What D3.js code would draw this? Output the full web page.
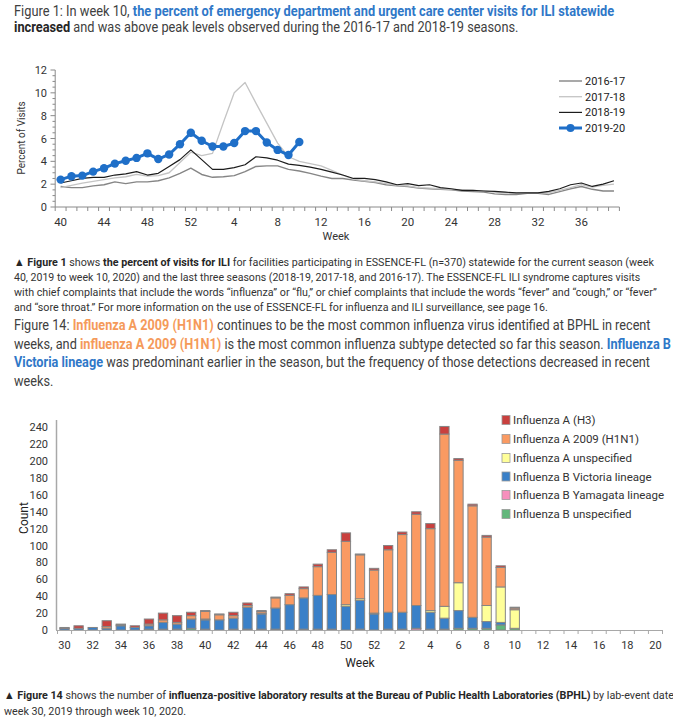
<!DOCTYPE html>
<html><head><meta charset="utf-8">
<script src="https://cdn.jsdelivr.net/npm/d3@7"></script>
<style>body{margin:0;background:#fff}svg{display:block}</style>
</head><body>
<svg id="c" width="673" height="725"></svg>
<script>
// ---------- Figure 1 data (percent of visits for ILI) ----------
const iliWeeks = [40,41,42,43,44,45,46,47,48,49,50,51,52,1,2,3,4,5,6,7,8,9,10,11,12,13,14,15,16,17,18,19,20,21,22,23,24,25,26,27,28,29,30,31,32,33,34,35,36,37,38,39];
const iliTickLabels = [40,44,48,52,4,8,12,16,20,24,28,32,36];
const iliYTicks = [0,2,4,6,8,10,12];
const s1617 = [1.8,1.7,1.7,1.85,1.95,2.2,2.05,2.2,2.2,2.3,2.55,2.95,3.4,
  2.85,2.6,2.65,2.75,3.1,3.55,3.6,3.6,3.3,3.15,2.95,2.7,2.5,2.5,2.35,2.25,2.15,1.95,1.85,1.8,
  1.65,1.6,1.55,1.5,1.4,1.35,1.3,1.15,1.1,1.1,1.2,1.2,1.1,1.35,1.6,1.8,1.55,1.4,1.4];
const s1718 = [1.7,1.9,2.1,2.25,2.4,2.55,2.65,2.85,2.7,2.75,3.0,3.9,4.8,
  4.5,4.7,7.4,10.0,10.9,9.1,7.35,5.6,4.4,4.0,3.8,3.6,3.2,2.8,2.45,2.3,2.2,2.05,1.9,1.85,
  1.7,1.65,1.6,1.55,1.5,1.45,1.4,1.3,1.25,1.2,1.25,1.25,1.25,1.45,1.7,1.95,1.75,1.9,2.0];
const s1819 = [2.1,2.3,2.5,2.6,2.6,2.8,2.9,3.1,2.8,2.95,3.55,4.15,5.0,
  4.15,3.3,3.3,3.45,3.7,4.4,4.3,4.1,3.75,3.65,3.5,3.3,3.05,2.8,2.5,2.5,2.4,2.2,1.95,2.05,
  1.87,1.95,1.7,1.6,1.45,1.45,1.4,1.37,1.3,1.23,1.23,1.23,1.37,1.6,1.95,2.1,1.8,2.0,2.3];
const s1920 = [2.4,2.7,2.75,3.1,3.4,3.8,4.05,4.3,4.7,4.2,4.6,5.5,6.5,
  5.8,5.3,5.3,5.6,6.65,6.65,5.65,5.0,4.55,5.7];
const iliSeriesNames = ["2016-17","2017-18","2018-19","2019-20"];

// ---------- Figure 14 data (BPHL influenza-positive results) ----------
const labWeeks = [30,31,32,33,34,35,36,37,38,39,40,41,42,43,44,45,46,47,48,49,50,51,52,1,2,3,4,5,6,7,8,9,10,11,12,13,14,15,16,17,18,19,20];
const labTickLabels = [30,32,34,36,38,40,42,44,46,48,50,52,2,4,6,8,10,12,14,16,18,20];
const labYTicks = [0,20,40,60,80,100,120,140,160,180,200,220,240];
const bUnspecified = [0,0,0,0,0,0,1,1,1,2,1,0,1,0,1,0,0,1,1,1,0,1,0,1,1,0,1,1,2,2,2,6,2,0,0,0,0,0,0,0,0,0,0];
const bYamagata    = [0,0,0,0,0,0,0,0,0,0,0,0,0,1,0,1,0,0,0,0,0,0,0,0,0,2,0,0,0,0,0,0,0,0,0,0,0,0,0,0,0,0,0];
const bVictoria    = [2,2,3,2,5,3,4,8,6,11,11,12,13,26,18,25,30,37,40,41,28,34,19,20,20,27,20,13,21,13,8,3,0,0,0,0,0,0,0,0,0,0,0];
const aUnspecified = [0,0,0,0,0,0,0,0,0,0,1,0,0,0,1,0,0,0,0,0,2,2,1,0,0,0,2,14,33,0,19,42,22,0,0,0,0,0,0,0,0,0,0];
const aH1N1        = [0,0,0,2,1,0,2,3,2,4,9,6,3,2,2,12,11,11,34,50,75,52,51,74,92,108,97,204,145,132,81,23,2,0,0,0,0,0,0,0,0,0,0];
const aH3          = [1,3,0,7,1,2,6,8,8,4,1,1,4,3,1,1,2,2,3,3,10,1,2,5,3,3,6,9,2,2,2,2,1,0,0,0,0,0,0,0,0,0,0];
const labLegend = ["Influenza A (H3)","Influenza A 2009 (H1N1)","Influenza A unspecified","Influenza B Victoria lineage","Influenza B Yamagata lineage","Influenza B unspecified"];

// ---------- helpers ----------
const FONT = "Roboto, 'Noto Sans', sans-serif";
const svg = d3.select("#c");
const STY = {
  n:  {fill:"#404040", w:"normal"},
  c:  {fill:"#333333", w:"normal"},
  b:  {fill:"#262626", w:"bold"},
  bb: {fill:"#2f78c8", w:"bold"},
  bo: {fill:"#f59a5a", w:"bold"}
};
function textLine(x, y, parts, size, right, kDefault) {
  const t = svg.append("text").attr("font-family", FONT).attr("font-size", size);
  parts.forEach(([s, st]) => {
    t.append("tspan").text(s).attr("fill", STY[st].fill).attr("font-weight", STY[st].w);
  });
  const w = t.node().getBBox().width;
  const k = right != null ? (right - x) / w : kDefault;
  t.attr("transform", `translate(${x},${y}) scale(${k},1)`);
  return k;
}

// ---------- texts ----------
let k = textLine(14, 16, [["Figure 1: In week 10, ","n"],["the percent of emergency department and urgent care center visits for ILI statewide","bb"]], 14.5, 615);
textLine(14, 32, [["increased","b"],[" and was above peak levels observed during the 2016-17 and 2018-19 seasons.","n"]], 14.5, 519);

textLine(14, 266, [["▲ ","b"],["Figure 1","b"],[" shows ","c"],["the percent of visits for ILI","b"],[" for facilities participating in ESSENCE-FL (n=370) statewide for the current season (week","c"]], 11.5, 655);
textLine(14, 281, [["40, 2019 to week 10, 2020) and the last three seasons (2018-19, 2017-18, and 2016-17). The ESSENCE-FL ILI syndrome captures visits","c"]], 11.5, 641);
textLine(14, 296, [["with chief complaints that include the words \u201cinfluenza\u201d or \u201cflu,\u201d or chief complaints that include the words \u201cfever\u201d and \u201ccough,\u201d or \u201cfever\u201d","c"]], 11.5, 657);
textLine(14, 311, [["and \u201csore throat.\u201d For more information on the use of ESSENCE-FL for influenza and ILI surveillance, see page 16.","c"]], 11.5, 548);

textLine(14, 330, [["Figure 14: ","n"],["Influenza A 2009 (H1N1)","bo"],[" continues to be the most common influenza virus identified at BPHL in recent","n"]], 14.5, 651);
textLine(14, 349, [["weeks, and ","n"],["influenza A 2009 (H1N1)","bo"],[" is the most common influenza subtype detected so far this season. ","n"],["Influenza B","bb"]], 14.5, 672);
k = textLine(14, 367, [["Victoria lineage","bb"],[" was predominant earlier in the season, but the frequency of those detections decreased in recent","n"]], 14.5, 651);
textLine(14, 386, [["weeks.","n"]], 14.5, null, k);

k = textLine(4, 699, [["▲ ","b"],["Figure 14","b"],[" shows the number of ","c"],["influenza-positive laboratory results at the Bureau of Public Health Laboratories (BPHL)","b"],[" by lab-event date","c"]], 11.5, 675);
textLine(4, 715, [["week 30, 2019 through week 10, 2020.","c"]], 11.5, null, k);

// ---------- Figure 1 chart ----------
const xL = d3.scaleBand().domain(iliWeeks.map(String)).range([55.2, 619.4]);
const yL = d3.scaleLinear().domain([0, 12]).range([207, 70]);
const g1 = svg.append("g");
const axisCol = "#8a8a8a";
// y axis
g1.append("line").attr("x1", 55.2).attr("x2", 55.2).attr("y1", yL(12)).attr("y2", yL(0)).attr("stroke", axisCol);
const minorL = d3.range(0, 12.01, 0.5);
g1.selectAll(".ym").data(minorL).enter().append("line")
  .attr("x1", 55.2).attr("x2", d => iliYTicks.includes(d) ? 50.5 : 52.5)
  .attr("y1", d => yL(d)).attr("y2", d => yL(d)).attr("stroke", axisCol);
g1.selectAll(".yl").data(iliYTicks).enter().append("text")
  .attr("x", 47).attr("y", d => yL(d) + 4).attr("text-anchor", "end")
  .attr("font-family", FONT).attr("font-size", 11).attr("fill", "#333").text(d => d);
// x axis
g1.append("line").attr("x1", 55.2).attr("x2", 619.4).attr("y1", 207).attr("y2", 207).attr("stroke", axisCol);
const edgesL = iliWeeks.map(w => xL(String(w))).concat([xL.range()[1]]);
g1.selectAll(".xt").data(edgesL).enter().append("line")
  .attr("x1", d => d).attr("x2", d => d).attr("y1", 207).attr("y2", 211).attr("stroke", axisCol);
g1.selectAll(".xl").data(iliTickLabels).enter().append("text")
  .attr("x", d => xL(String(d)) + xL.bandwidth() / 2).attr("y", 226).attr("text-anchor", "middle")
  .attr("font-family", FONT).attr("font-size", 11.5).attr("fill", "#333").text(d => d);
g1.append("text").attr("x", 336).attr("y", 240).attr("text-anchor", "middle")
  .attr("font-family", FONT).attr("font-size", 11).attr("fill", "#333").text("Week");
g1.append("text").attr("transform", "translate(25,138) rotate(-90)").attr("text-anchor", "middle")
  .attr("font-family", FONT).attr("font-size", 10).attr("fill", "#333").text("Percent of Visits");

const lineGen = d3.line().x((d, i) => xL(String(iliWeeks[i])) + xL.bandwidth() / 2).y(d => yL(d));
const lineStyles = [
  {data: s1617, color: "#858585", w: 1.4},
  {data: s1718, color: "#c4c4c4", w: 1.3},
  {data: s1819, color: "#1c1c1c", w: 1.2},
  {data: s1920, color: "#1f6fc8", w: 3}
];
lineStyles.forEach(s => {
  g1.append("path").attr("d", lineGen(s.data)).attr("fill", "none")
    .attr("stroke", s.color).attr("stroke-width", s.w).attr("stroke-linejoin", "round");
});
g1.selectAll(".pt").data(s1920).enter().append("circle")
  .attr("cx", (d, i) => xL(String(iliWeeks[i])) + xL.bandwidth() / 2).attr("cy", d => yL(d))
  .attr("r", 4.2).attr("fill", "#1f6fc8");
// legend
const legY = [81, 96.7, 112.4, 128];
iliSeriesNames.forEach((n, i) => {
  const s = lineStyles[i];
  g1.append("line").attr("x1", 559).attr("x2", 582).attr("y1", legY[i]).attr("y2", legY[i])
    .attr("stroke", s.color).attr("stroke-width", s.w);
  if (i === 3) g1.append("circle").attr("cx", 570.5).attr("cy", legY[i]).attr("r", 4).attr("fill", s.color);
  g1.append("text").attr("x", 585).attr("y", legY[i] + 4).attr("font-family", FONT)
    .attr("font-size", 11).attr("fill", "#222").text(n);
});

// ---------- Figure 14 chart ----------
const keys = ["bUnspecified","bYamagata","bVictoria","aUnspecified","aH1N1","aH3"];
const colors = {bUnspecified:"#62b77b", bYamagata:"#f78fbd", bVictoria:"#3a80c8", aUnspecified:"#ffff99", aH1N1:"#fa9a62", aH3:"#c9403e"};
const table = labWeeks.map((w, i) => ({week: String(w), bUnspecified: bUnspecified[i], bYamagata: bYamagata[i],
  bVictoria: bVictoria[i], aUnspecified: aUnspecified[i], aH1N1: aH1N1[i], aH3: aH3[i]}));
const stacked = d3.stack().keys(keys)(table);
const xB = d3.scaleBand().domain(labWeeks.map(String)).range([57.5, 662.5]).paddingInner(0.34).paddingOuter(0.17);
const yB = d3.scaleLinear().domain([0, 240]).range([630, 427.3]);
const g2 = svg.append("g");
const ax2 = "#a8a8a8";
stacked.forEach(layer => {
  g2.selectAll(".b-" + layer.key).data(layer.filter(d => d[1] > d[0])).enter().append("rect")
    .attr("x", d => xB(d.data.week)).attr("width", xB.bandwidth())
    .attr("y", d => yB(d[1])).attr("height", d => yB(d[0]) - yB(d[1]))
    .attr("fill", colors[layer.key]).attr("stroke", "#858585").attr("stroke-width", 1);
});
g2.append("line").attr("x1", 56.5).attr("x2", 56.5).attr("y1", 420).attr("y2", 630).attr("stroke", ax2).attr("stroke-width", 1.5);
g2.append("line").attr("x1", 56).attr("x2", 662.5).attr("y1", 630.5).attr("y2", 630.5).attr("stroke", ax2).attr("stroke-width", 1.2);
const edgesB = labWeeks.map(w => xB(String(w)) - xB.step() * xB.paddingInner() / 2).concat([662.5]);
g2.selectAll(".bt").data(edgesB).enter().append("line")
  .attr("x1", d => d).attr("x2", d => d).attr("y1", 630).attr("y2", 634).attr("stroke", ax2);
g2.selectAll(".byl").data(labYTicks).enter().append("text")
  .attr("x", 48).attr("y", d => yB(d) + 4).attr("text-anchor", "end")
  .attr("font-family", FONT).attr("font-size", 11).attr("fill", "#333").text(d => d);
g2.selectAll(".bxl").data(labTickLabels).enter().append("text")
  .attr("x", d => xB(String(d)) + xB.bandwidth() / 2).attr("y", 649).attr("text-anchor", "middle")
  .attr("font-family", FONT).attr("font-size", 11).attr("fill", "#333").text(d => d);
g2.append("text").attr("x", 360).attr("y", 667).attr("text-anchor", "middle")
  .attr("font-family", FONT).attr("font-size", 12).attr("fill", "#222").text("Week");
g2.append("text").attr("transform", "translate(28,518) rotate(-90)").attr("text-anchor", "middle")
  .attr("font-family", FONT).attr("font-size", 12).attr("fill", "#222").text("Count");
// legend
const legKeys = ["aH3","aH1N1","aUnspecified","bVictoria","bYamagata","bUnspecified"];
const legY2 = [420, 439, 458, 476.5, 495, 514];
labLegend.forEach((n, i) => {
  g2.append("rect").attr("x", 502).attr("y", legY2[i] - 4.5).attr("width", 8).attr("height", 9)
    .attr("fill", colors[legKeys[i]]).attr("stroke", "#9a9a9a").attr("stroke-width", 0.8);
  g2.append("text").attr("x", 513).attr("y", legY2[i] + 4).attr("font-family", FONT)
    .attr("font-size", 11.5).attr("fill", "#333").text(n);
});
</script>
</body></html>
